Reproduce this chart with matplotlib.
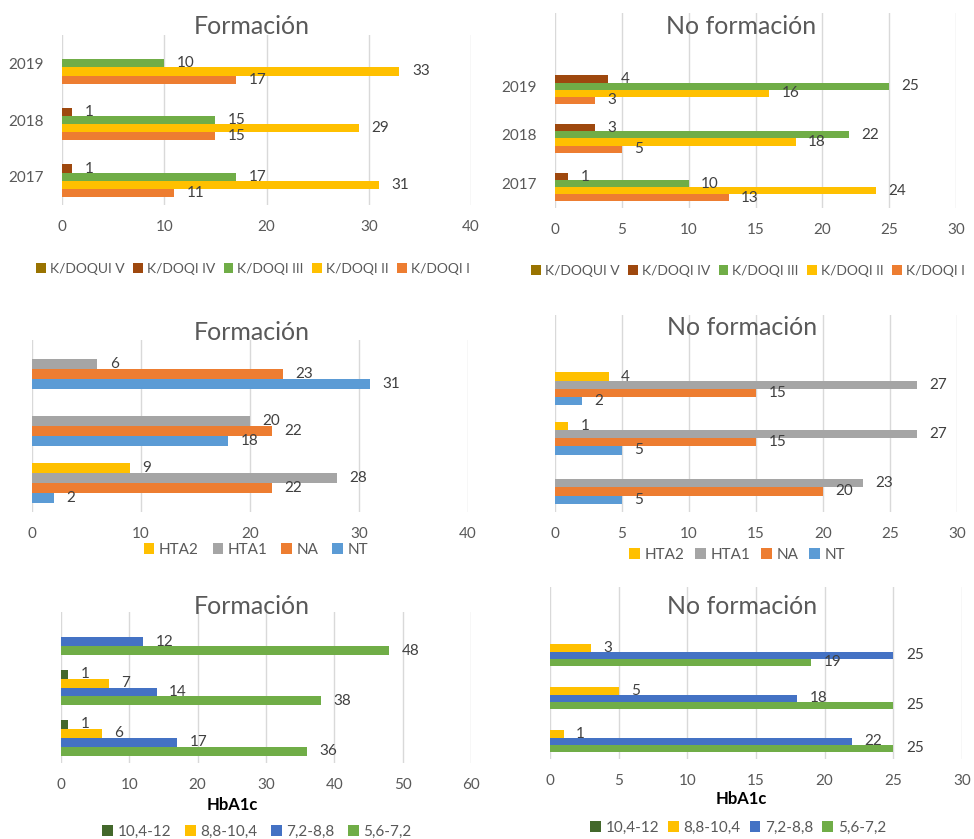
import numpy as np
import matplotlib
matplotlib.use('Agg')
from matplotlib import pyplot as plt
from matplotlib.patches import Patch

plt.rcParams['font.family'] = ['Lato', 'DejaVu Sans']

W, H = 974, 839

# categories, bottom to top
years = ['2017', '2018', '2019']

# K/DOQI panels (series listed top to bottom within a group)
kdoqi_names = ['K/DOQUI V', 'K/DOQI IV', 'K/DOQI III', 'K/DOQI II', 'K/DOQI I']
kdoqi_colors = ['#997300', '#9E480E', '#70AD47', '#FFC000', '#ED7D31']
kdoqi_form = [[0, 0, 0], [1, 1, 0], [17, 15, 10], [31, 29, 33], [11, 15, 17]]
kdoqi_noform = [[0, 0, 0], [1, 3, 4], [10, 22, 25], [24, 18, 16], [13, 5, 3]]

# HTA panels
hta_names = ['HTA2', 'HTA1', 'NA', 'NT']
hta_colors = ['#FFC000', '#A5A5A5', '#ED7D31', '#5B9BD5']
hta_form = [[9, 0, 0], [28, 20, 6], [22, 22, 23], [2, 18, 31]]
hta_noform = [[0, 1, 4], [23, 27, 27], [20, 15, 15], [5, 5, 2]]

# HbA1c panels
hba_names = ['10,4-12', '8,8-10,4', '7,2-8,8', '5,6-7,2']
hba_colors = ['#43682B', '#FFC000', '#4472C4', '#70AD47']
hba_form = [[1, 1, 0], [6, 7, 0], [17, 14, 12], [36, 38, 48]]
hba_noform = [[0, 0, 0], [1, 5, 3], [22, 18, 25], [25, 25, 19]]

GRAY = '#595959'


def px_axes(fig, x0, x1, ytop, ybot):
    return fig.add_axes([x0 / W, 1 - ybot / H, (x1 - x0) / W, (ybot - ytop) / H])


def panel(fig, box, names, colors, values, xmax, step, ytop_lim, show_years,
          title, title_xy, legend_xy, group=0.72, xlabel_xy=None,
          leg_size=11, leg_space=0.9):
    ax = px_axes(fig, *box)
    n = len(names)
    y = np.arange(len(years))
    h = group / n
    for i, (name, col, vals) in enumerate(zip(names, colors, values)):
        off = group / 2 - h * (i + 0.5)
        bars = ax.barh(y + off, vals, height=h, color=col, label=name, zorder=2)
        for b, v in zip(bars, vals):
            if v > 0:
                ax.annotate(str(v), (v, b.get_y() + h / 2), xytext=(9, 0),
                            textcoords='offset points', ha='left', va='center',
                            fontsize=11, color='#404040')
    ax.set_xlim(0, xmax)
    ax.set_ylim(-0.5, ytop_lim)
    ax.set_xticks(np.arange(0, xmax + 0.1, step))
    ax.grid(axis='x', color='#D9D9D9', lw=1, zorder=0)
    for s in ax.spines.values():
        s.set_visible(False)
    ax.tick_params(axis='both', length=0, labelsize=11, labelcolor=GRAY, pad=11)
    ax.set_yticks(y)
    if show_years:
        ax.set_yticklabels(years)
        ax.tick_params(axis='y', pad=13)
    else:
        ax.set_yticklabels([])
    fig.text(title_xy[0] / W, 1 - title_xy[1] / H, title, ha='center', va='center',
             fontsize=18, color=GRAY)
    handles = [Patch(facecolor=c, label=nm) for nm, c in zip(names, colors)]
    fig.legend(handles=handles, loc='center',
               bbox_to_anchor=(legend_xy[0] / W, 1 - legend_xy[1] / H),
               ncol=n, frameon=False, fontsize=leg_size, labelcolor=GRAY,
               handlelength=0.7, handleheight=0.7, handletextpad=0.3,
               columnspacing=leg_space, borderaxespad=0, borderpad=0)
    if xlabel_xy is not None:
        fig.text(xlabel_xy[0] / W, 1 - xlabel_xy[1] / H, 'HbA1c', ha='center',
                 va='center', fontsize=12, fontweight='bold', color='black')
    return ax


fig = plt.figure(figsize=(W / 100, H / 100), dpi=100)

panel(fig, (62, 471, 35, 205), kdoqi_names, kdoqi_colors, kdoqi_form, 40, 10, 2.5,
      True, 'Formación', (252, 26), (253, 269), group=0.72,
      leg_size=10, leg_space=0.6)
panel(fig, (555, 956, 13, 208), kdoqi_names, kdoqi_colors, kdoqi_noform, 30, 5, 3.5,
      True, 'No formación', (741, 26), (748, 271), group=0.73,
      leg_size=10, leg_space=0.6)
panel(fig, (32, 468, 340, 512), hta_names, hta_colors, hta_form, 40, 10, 2.5,
      False, 'Formación', (252, 332), (256, 550), group=0.70)
panel(fig, (555, 957, 315, 512), hta_names, hta_colors, hta_noform, 30, 5, 3.5,
      False, 'No formación', (742, 328), (737, 555), group=0.67, leg_space=0.7)
panel(fig, (61, 471, 612, 763), hba_names, hba_colors, hba_form, 60, 10, 2.5,
      False, 'Formación', (252, 607), (257, 832), group=0.71, xlabel_xy=(232, 805))
panel(fig, (550, 962, 587, 759), hba_names, hba_colors, hba_noform, 30, 5, 3.5,
      False, 'No formación', (742, 607), (738, 828), group=0.68, xlabel_xy=(741, 799),
      leg_space=0.6)

fig.savefig('out.png', dpi=100)
